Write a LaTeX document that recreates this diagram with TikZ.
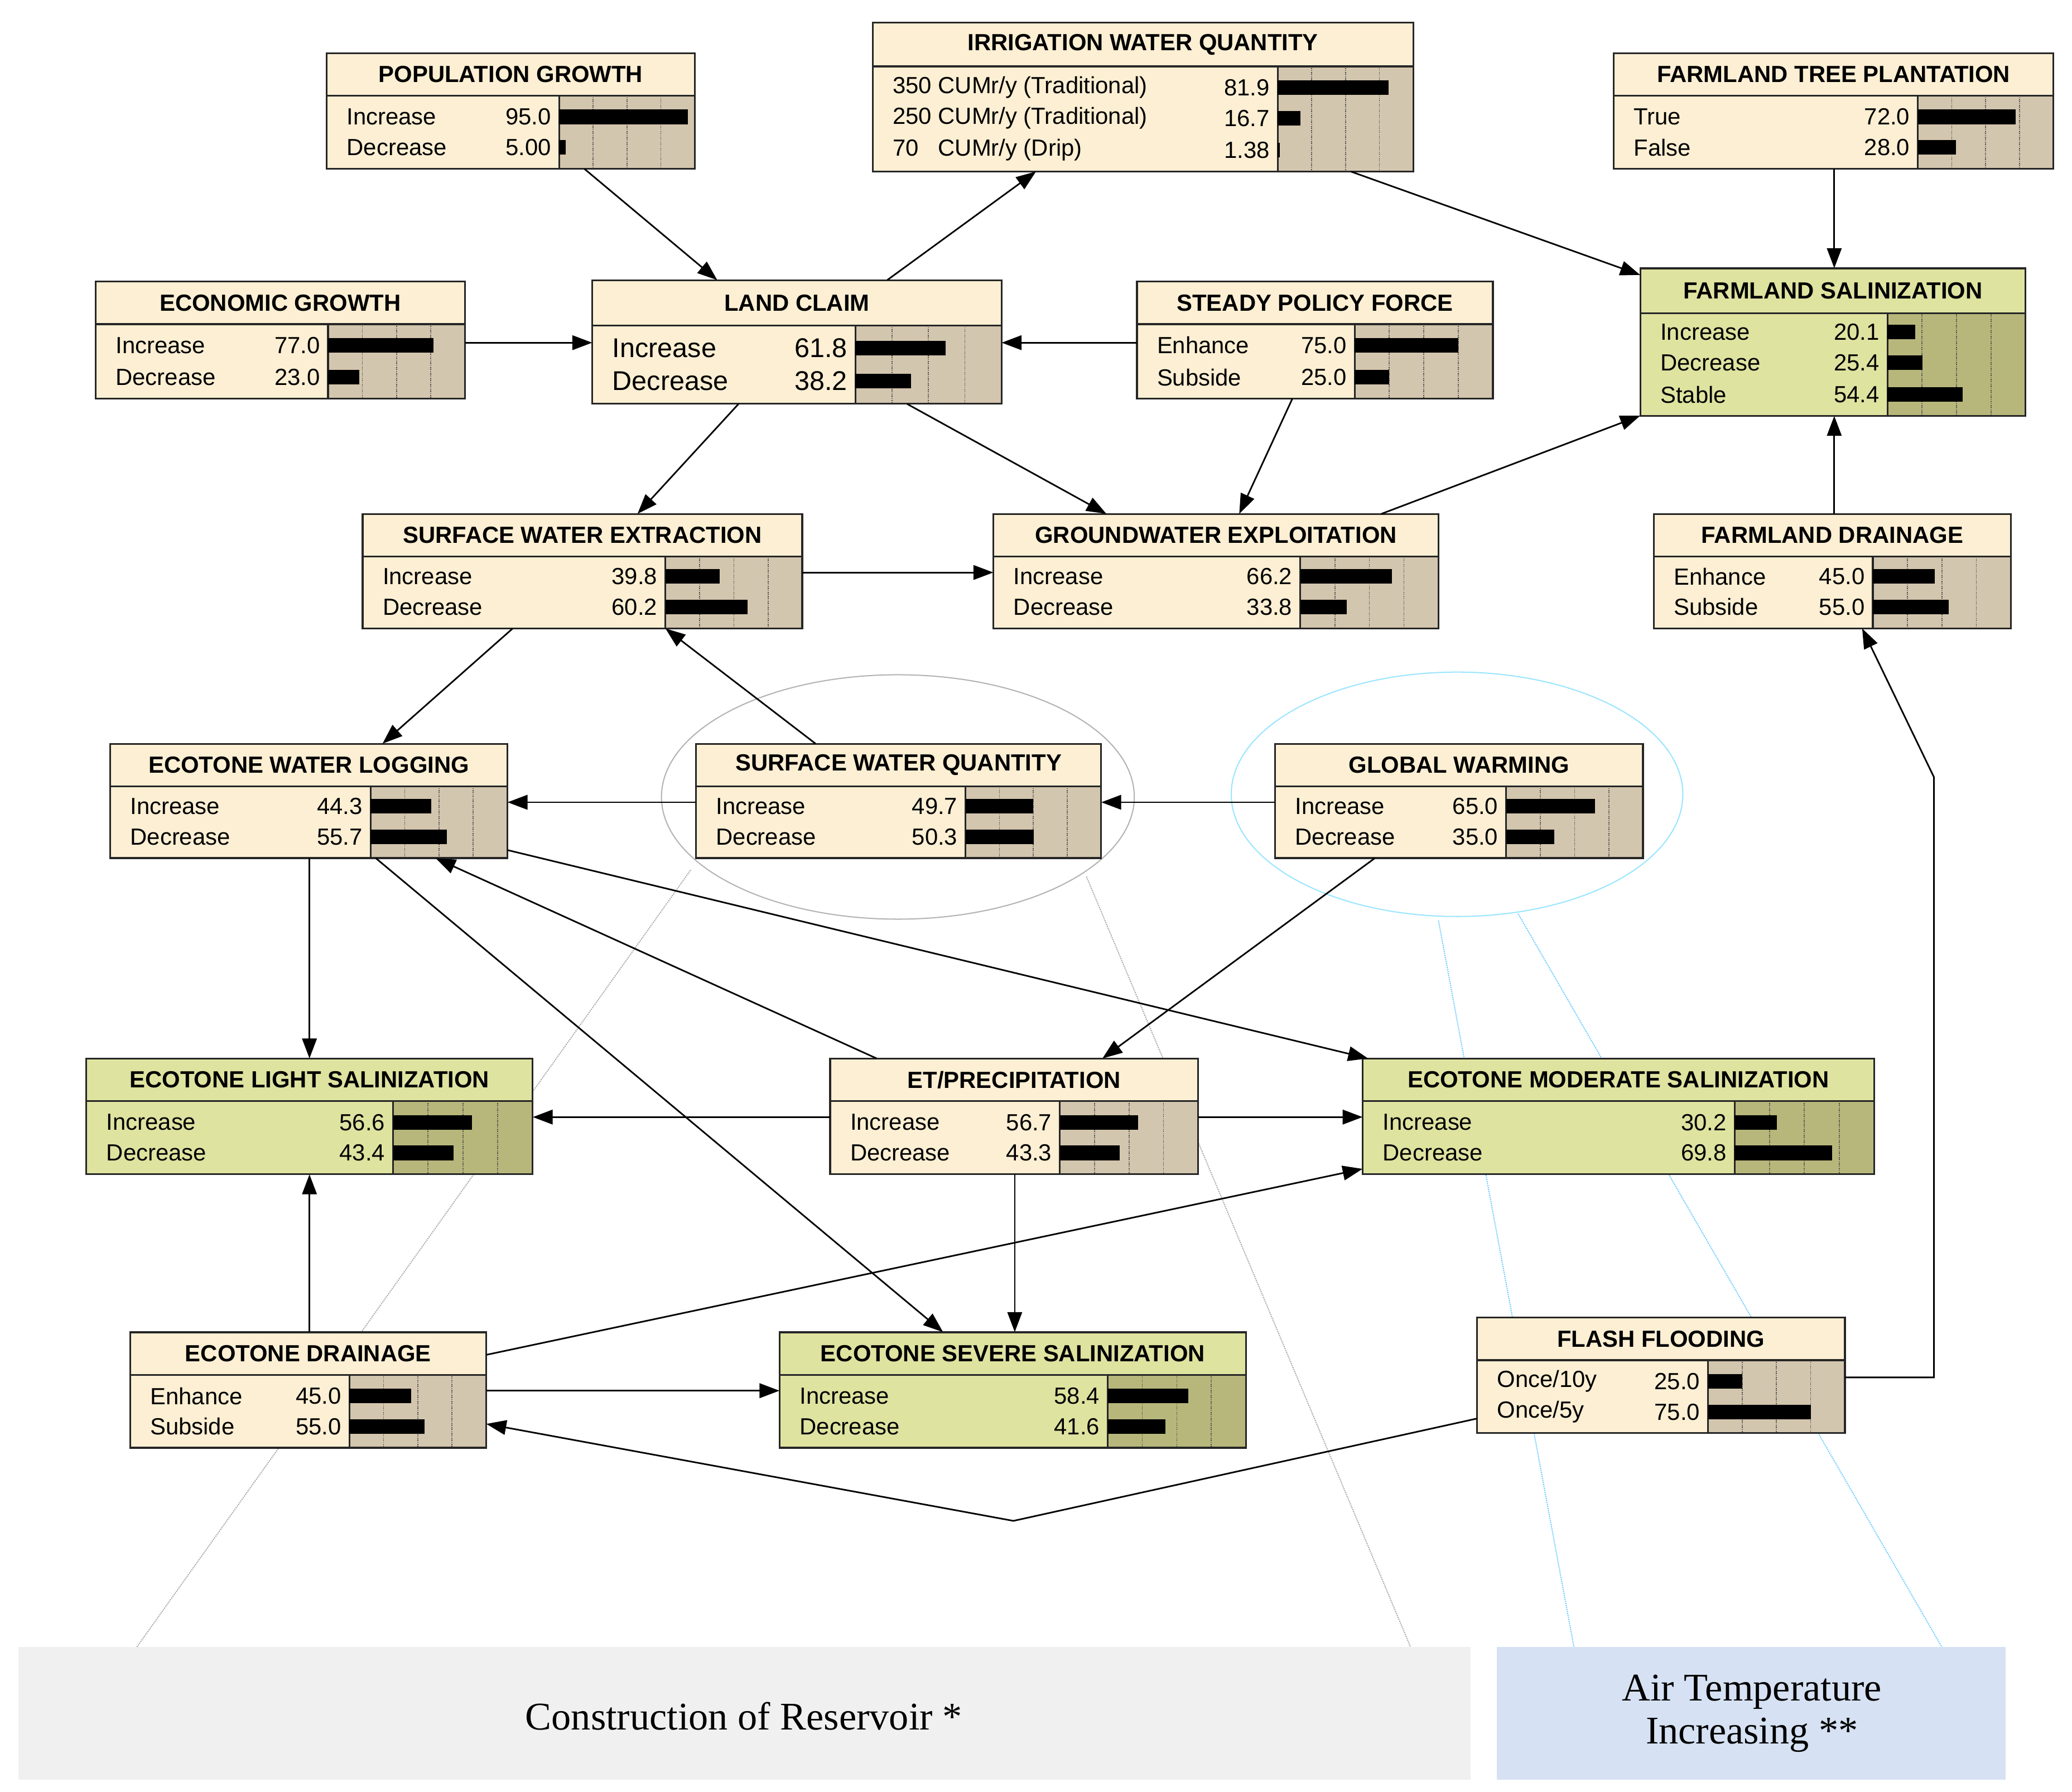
\documentclass[tikz,border=0pt]{standalone}
\usepackage{fontspec}
\setmainfont{Liberation Sans}
\newfontfamily\capserif{Liberation Serif}
\usetikzlibrary{arrows.meta,fit}
\definecolor{creamtitle}{HTML}{FCEFD3}
\definecolor{creambar}{HTML}{D3C6AE}
\definecolor{greentitle}{HTML}{DFE3A0}
\definecolor{greenbar}{HTML}{B7B77C}
\definecolor{greybox}{HTML}{F0F0F0}
\definecolor{bluebox}{HTML}{D6E2F3}
\tikzset{
 boxline/.style={line width=1.9pt, draw=black!85},
 titlefont/.style={font=\fontsize{25}{28}\selectfont\bfseries, inner sep=0},
 rowfont/.style={font=\fontsize{25}{28}\selectfont, inner sep=0},
 arr/.style={line width=1.7pt, -{Triangle[length=0.75cm,width=0.55cm]}},
 ln/.style={line width=1.7pt},
 greydot/.style={densely dotted, line width=1.2pt, gray!70},
 bluedot/.style={densely dotted, line width=1.2pt, blue!35!cyan!60!white},
}
\newcommand\BN[9]{%
 \def\bnxa{#3}\def\bnxb{#5}\def\bnbx{#8}%
 \fill[#1title] (#3,#4) rectangle (#5,#6);
 \fill[#1bar] (#8,#7) rectangle (#5,#6);
 \foreach \f in {0.25,0.5,0.75}{\draw[densely dotted, line width=1pt, black!70] ({#8+\f*(#5-#8)},#7) -- ({#8+\f*(#5-#8)},#6);}
 \draw[boxline] (#3,#7) -- (#5,#7);
 \draw[boxline] (#8,#7) -- (#8,#6);
 \draw[boxline] (#3,#4) rectangle (#5,#6);
 \node[titlefont] at ({(#3+#5)/2},{(#4+#7)/2}) {#9};
 \node[fit={(#3,#4)(#5,#6)}, inner sep=0pt] (#2) {};
}
\newcommand\BR[4]{%
 \node[rowfont, anchor=west] at (\bnxa+15,#4) {#1};
 \node[rowfont, anchor=east] at (\bnbx-6,#4) {#2};
 \fill (\bnbx,#4-5.5) rectangle ({\bnbx+#3/100*(\bnxb-\bnbx)},#4+5.5);
}
\begin{document}
\begin{tikzpicture}[x=0.05cm,y=-0.05cm]
\useasboundingbox[fill=white] (0,0) rectangle (1560,1349);
% ellipses and dotted guide lines
\draw[gray!60, line width=1.2pt] (676,600) ellipse [x radius=178, y radius=92];
\draw[blue!25!cyan!40!white, line width=1.2pt] (1097,598) ellipse [x radius=170, y radius=92];
\draw[greydot] (520,655) -- (103,1240);
\draw[greydot] (818,660) -- (1062,1240);
\draw[bluedot] (1083,693) -- (1185,1240);
\draw[bluedot] (1143,688) -- (1462,1240);
% bottom boxes
\fill[greybox] (14,1240) rectangle (1107,1340);
\node[font=\capserif\fontsize{42}{46}\selectfont] (res) at (560,1292) {Construction of Reservoir *};
\fill[bluebox] (1127,1240) rectangle (1510,1340);
\node[font=\capserif\fontsize{42}{46}\selectfont, align=center] (air) at (1319,1290) {Air Temperature\\Increasing **};
% nodes
\BN{cream}{pop}{246}{40}{523}{127}{72}{421}{POPULATION GROWTH}
\BR{Increase}{95.0}{95}{88}\BR{Decrease}{5.00}{5}{111}
\BN{cream}{irr}{657}{17}{1064}{129}{50}{962}{IRRIGATION WATER QUANTITY}
\BR{350 CUMr/y (Traditional)}{81.9}{81.9}{66}\BR{250 CUMr/y (Traditional)}{16.7}{16.7}{89}\BR{70\ \ \ CUMr/y (Drip)}{1.38}{1.38}{113}
\BN{cream}{tree}{1215}{40}{1546}{127}{72}{1444}{FARMLAND TREE PLANTATION}
\BR{True}{72.0}{72}{88}\BR{False}{28.0}{28}{111}
\BN{cream}{econ}{72}{212}{350}{300}{244}{247}{ECONOMIC GROWTH}
\BR{Increase}{77.0}{77}{260}\BR{Decrease}{23.0}{23}{284}
\BN{cream}{lc}{446}{211}{754}{304}{245}{644}{LAND CLAIM}
\begingroup\tikzset{rowfont/.style={font=\fontsize{29}{32}\selectfont, inner sep=0}}
\BR{Increase}{61.8}{61.8}{262}\BR{Decrease}{38.2}{38.2}{287}
\endgroup
\BN{cream}{spf}{856}{212}{1124}{300}{244}{1020}{STEADY POLICY FORCE}
\BR{Enhance}{75.0}{75}{260}\BR{Subside}{25.0}{25}{284}
\BN{green}{fs}{1235}{202}{1525}{313}{236}{1421}{FARMLAND SALINIZATION}
\BR{Increase}{20.1}{20.1}{250}\BR{Decrease}{25.4}{25.4}{273}\BR{Stable}{54.4}{54.4}{297}
\BN{cream}{swe}{273}{387}{604}{473}{419}{501}{SURFACE WATER EXTRACTION}
\BR{Increase}{39.8}{39.8}{434}\BR{Decrease}{60.2}{60.2}{457}
\BN{cream}{gwe}{748}{387}{1083}{473}{419}{979}{GROUNDWATER EXPLOITATION}
\BR{Increase}{66.2}{66.2}{434}\BR{Decrease}{33.8}{33.8}{457}
\BN{cream}{fd}{1245}{387}{1514}{473}{419}{1410}{FARMLAND DRAINAGE}
\BR{Enhance}{45.0}{45}{434}\BR{Subside}{55.0}{55}{457}
\BN{cream}{ewl}{83}{560}{382}{646}{592}{279}{ECOTONE WATER LOGGING}
\BR{Increase}{44.3}{44.3}{607}\BR{Decrease}{55.7}{55.7}{630}
\BN{cream}{swq}{524}{560}{829}{646}{592}{727}{SURFACE WATER QUANTITY}
\BR{Increase}{49.7}{49.7}{607}\BR{Decrease}{50.3}{50.3}{630}
\BN{cream}{gw}{960}{560}{1237}{646}{592}{1134}{GLOBAL WARMING}
\BR{Increase}{65.0}{65}{607}\BR{Decrease}{35.0}{35}{630}
\BN{green}{els}{65}{797}{401}{884}{829}{296}{ECOTONE LIGHT SALINIZATION}
\BR{Increase}{56.6}{56.6}{845}\BR{Decrease}{43.4}{43.4}{868}
\BN{cream}{et}{625}{797}{902}{884}{829}{798}{ET/PRECIPITATION}
\BR{Increase}{56.7}{56.7}{845}\BR{Decrease}{43.3}{43.3}{868}
\BN{green}{ems}{1026}{797}{1411}{884}{829}{1306}{ECOTONE MODERATE SALINIZATION}
\BR{Increase}{30.2}{30.2}{845}\BR{Decrease}{69.8}{69.8}{868}
\BN{cream}{ed}{98}{1003}{366}{1090}{1035}{263}{ECOTONE DRAINAGE}
\BR{Enhance}{45.0}{45}{1051}\BR{Subside}{55.0}{55}{1074}
\BN{green}{ess}{587}{1003}{938}{1090}{1035}{834}{ECOTONE SEVERE SALINIZATION}
\BR{Increase}{58.4}{58.4}{1051}\BR{Decrease}{41.6}{41.6}{1074}
\BN{cream}{ff}{1112}{992}{1389}{1079}{1024}{1286}{FLASH FLOODING}
\BR{Once/10y}{25.0}{25}{1040}\BR{Once/5y}{75.0}{75}{1063}
% connectors
\draw[arr] (pop.south -| 440,0) -- (lc.north -| 540,0);
\draw[arr] (lc.north -| 668,0) -- (irr.south -| 780,0);
\draw[arr] (irr.south -| 1017,0) -- (fs.west |- 0,207);
\draw[arr] (tree.south -| 1381,0) -- (fs.north -| 1381,0);
\draw[arr] (econ.east |- 0,258) -- (lc.west |- 0,258);
\draw[arr] (spf.west |- 0,258) -- (lc.east |- 0,258);
\draw[arr] (lc.south -| 556,0) -- (swe.north -| 480,0);
\draw[arr] (lc.south -| 683,0) -- (gwe.north -| 833,0);
\draw[arr] (spf.south -| 973,0) -- (gwe.north -| 933,0);
\draw[arr] (gwe.north -| 1040,0) -- (fs.west |- 0,313);
\draw[arr] (fd.north -| 1381,0) -- (fs.south -| 1381,0);
\draw[arr] (swe.east |- 0,431) -- (gwe.west |- 0,431);
\draw[arr] (swe.south -| 386,0) -- (ewl.north -| 288,0);
\draw[arr] (swq.north -| 614,0) -- (swe.south -| 501,0);
\draw[arr] (swq.west |- 0,604) -- (ewl.east |- 0,604);
\draw[arr] (gw.west |- 0,604) -- (swq.east |- 0,604);
\draw[arr] (gw.south -| 1035,0) -- (et.north -| 830,0);
\draw[arr] (ewl.south -| 233,0) -- (els.north -| 233,0);
\draw[arr] (ewl.east |- 0,640) -- (ems.north -| 1030,0);
\draw[arr] (ewl.south -| 283,0) -- (ess.north -| 710,0);
\draw[arr] (et.north -| 660,0) -- (ewl.south -| 328,0);
\draw[arr] (et.west |- 0,841) -- (els.east |- 0,841);
\draw[arr] (et.east |- 0,841) -- (ems.west |- 0,841);
\draw[arr] (et.south -| 764,0) -- (ess.north -| 764,0);
\draw[arr] (ed.north -| 233,0) -- (els.south -| 233,0);
\draw[arr] (ed.east |- 0,1047) -- (ess.west |- 0,1047);
\draw[arr] (ed.east |- 0,1020) -- (ems.west |- 0,880);
\coordinate (b1) at (1456,1037);
\coordinate (b2) at (1456,585);
\coordinate (b3) at (763,1145);
\draw[arr] (ff.east |- b1) -- (b1) -- (b2) -- (fd.south -| 1402,0);
\draw[arr] (ff.west |- 0,1068) -- (b3) -- (ed.east |- 0,1072);
\end{tikzpicture}
\end{document}
